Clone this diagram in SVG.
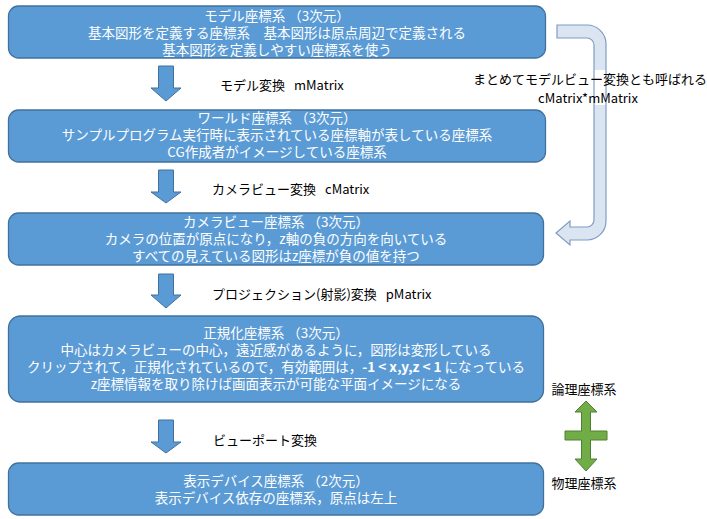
<svg xmlns="http://www.w3.org/2000/svg" width="707" height="519" viewBox="0 0 707 519">
<style>
.box{fill:#5b9bd5;stroke:#41719c;stroke-width:1.3}
.bt{font-family:"Noto Sans CJK JP","Noto Sans",sans-serif;font-size:13.5px;fill:#ffffff;text-anchor:middle;dominant-baseline:central}
.lb{font-family:"Noto Sans CJK JP","Noto Sans",sans-serif;font-size:13px;fill:#000000;dominant-baseline:central}
.down{fill:#5b9bd5;stroke:#41719c;stroke-width:1}
.b{font-weight:bold}
</style>
<rect width="707" height="519" fill="#ffffff"/>
<g id="connectors">
<path class="down" d="M158.5,66 H173.5 V88 H181 L166,101 L151,88 H158.5 Z"/>
<path class="down" d="M158.5,170 H173.5 V192 H181 L166,203 L151,192 H158.5 Z"/>
<path class="down" d="M158.5,274 H173.5 V295 H181 L166,308 L151,295 H158.5 Z"/>
<path class="down" d="M158.5,420 H173.5 V442 H181 L166,453 L151,442 H158.5 Z"/>
<path id="modelview-arrow" d="M557,25 L587,25 A19,19 0 0 1 606,44 L606,221 A19,19 0 0 1 587,240 L570,240 L570,245 L556,233 L570,221 L570,227 L587,227 A7,7 0 0 0 594,220 L594,45 A7,7 0 0 0 587,38 L557,38 Z" fill="#dbe5f2" stroke="#7f9cc4" stroke-width="1.2"/>
<rect x="470" y="70" width="236" height="35" fill="#ffffff"/>
<line x1="594" y1="70" x2="594" y2="105" stroke="#7f9cc4" stroke-width="1.2"/>
<line x1="606" y1="70" x2="606" y2="105" stroke="#7f9cc4" stroke-width="1.2"/>
<path id="logical-physical-arrow" d="M586,401 L597,412 L590.5,412 L590.5,431 L607,431 L607,440 L590.5,440 L590.5,459 L597,459 L586,471 L575,459 L581.5,459 L581.5,440 L565,440 L565,431 L581.5,431 L581.5,412 L575,412 Z" fill="#70ad47" stroke="#507e32" stroke-width="1"/>
<text class="lb" x="220" y="84">モデル変換<tspan dx="9">mMatrix</tspan></text>
<text class="lb" x="212" y="188">カメラビュー変換<tspan dx="9">cMatrix</tspan></text>
<text class="lb" x="212" y="293">プロジェクション(射影)変換<tspan dx="9">pMatrix</tspan></text>
<text class="lb" x="213" y="439">ビューポート変換</text>
<text class="lb" x="473" y="78">まとめてモデルビュー変換とも呼ばれる</text>
<text class="lb" x="588" y="97" text-anchor="middle">cMatrix*mMatrix</text>
<text class="lb" x="584" y="388" text-anchor="middle">論理座標系</text>
<text class="lb" x="584" y="482" text-anchor="middle">物理座標系</text>
</g>
<g id="model">
<rect class="box" x="8.5" y="6" width="537" height="52" rx="10"/>
<text class="bt" x="277" y="15">モデル座標系 （3次元）</text>
<text class="bt" x="277" y="32">基本図形を定義する座標系　基本図形は原点周辺で定義される</text>
<text class="bt" x="277" y="49">基本図形を定義しやすい座標系を使う</text>
</g>
<g id="world">
<rect class="box" x="8.5" y="110" width="537" height="52" rx="10"/>
<text class="bt" x="277" y="117">ワールド座標系 （3次元）</text>
<text class="bt" x="277" y="134">サンプルプログラム実行時に表示されている座標軸が表している座標系</text>
<text class="bt" x="277" y="151">CG作成者がイメージしている座標系</text>
</g>
<g id="camera">
<rect class="box" x="8.5" y="213" width="535" height="52" rx="10"/>
<text class="bt" x="276" y="221">カメラビュー座標系 （3次元）</text>
<text class="bt" x="276" y="238">カメラの位置が原点になり，z軸の負の方向を向いている</text>
<text class="bt" x="276" y="255">すべての見えている図形はz座標が負の値を持つ</text>
</g>
<g id="normalized">
<rect class="box" x="8.5" y="316" width="535" height="86" rx="12"/>
<text class="bt" x="276" y="332">正規化座標系 （3次元）</text>
<text class="bt" x="276" y="349">中心はカメラビューの中心，遠近感があるように，図形は変形している</text>
<text class="bt" x="276" y="366">クリップされて，正規化されているので，有効範囲は，<tspan class="b">-1 &lt; x,y,z &lt; 1</tspan> になっている</text>
<text class="bt" x="276" y="383">z座標情報を取り除けば画面表示が可能な平面イメージになる</text>
</g>
<g id="device">
<rect class="box" x="8.5" y="463" width="535" height="52" rx="10"/>
<text class="bt" x="276" y="480">表示デバイス座標系 （2次元）</text>
<text class="bt" x="276" y="497">表示デバイス依存の座標系，原点は左上</text>
</g>
</svg>
